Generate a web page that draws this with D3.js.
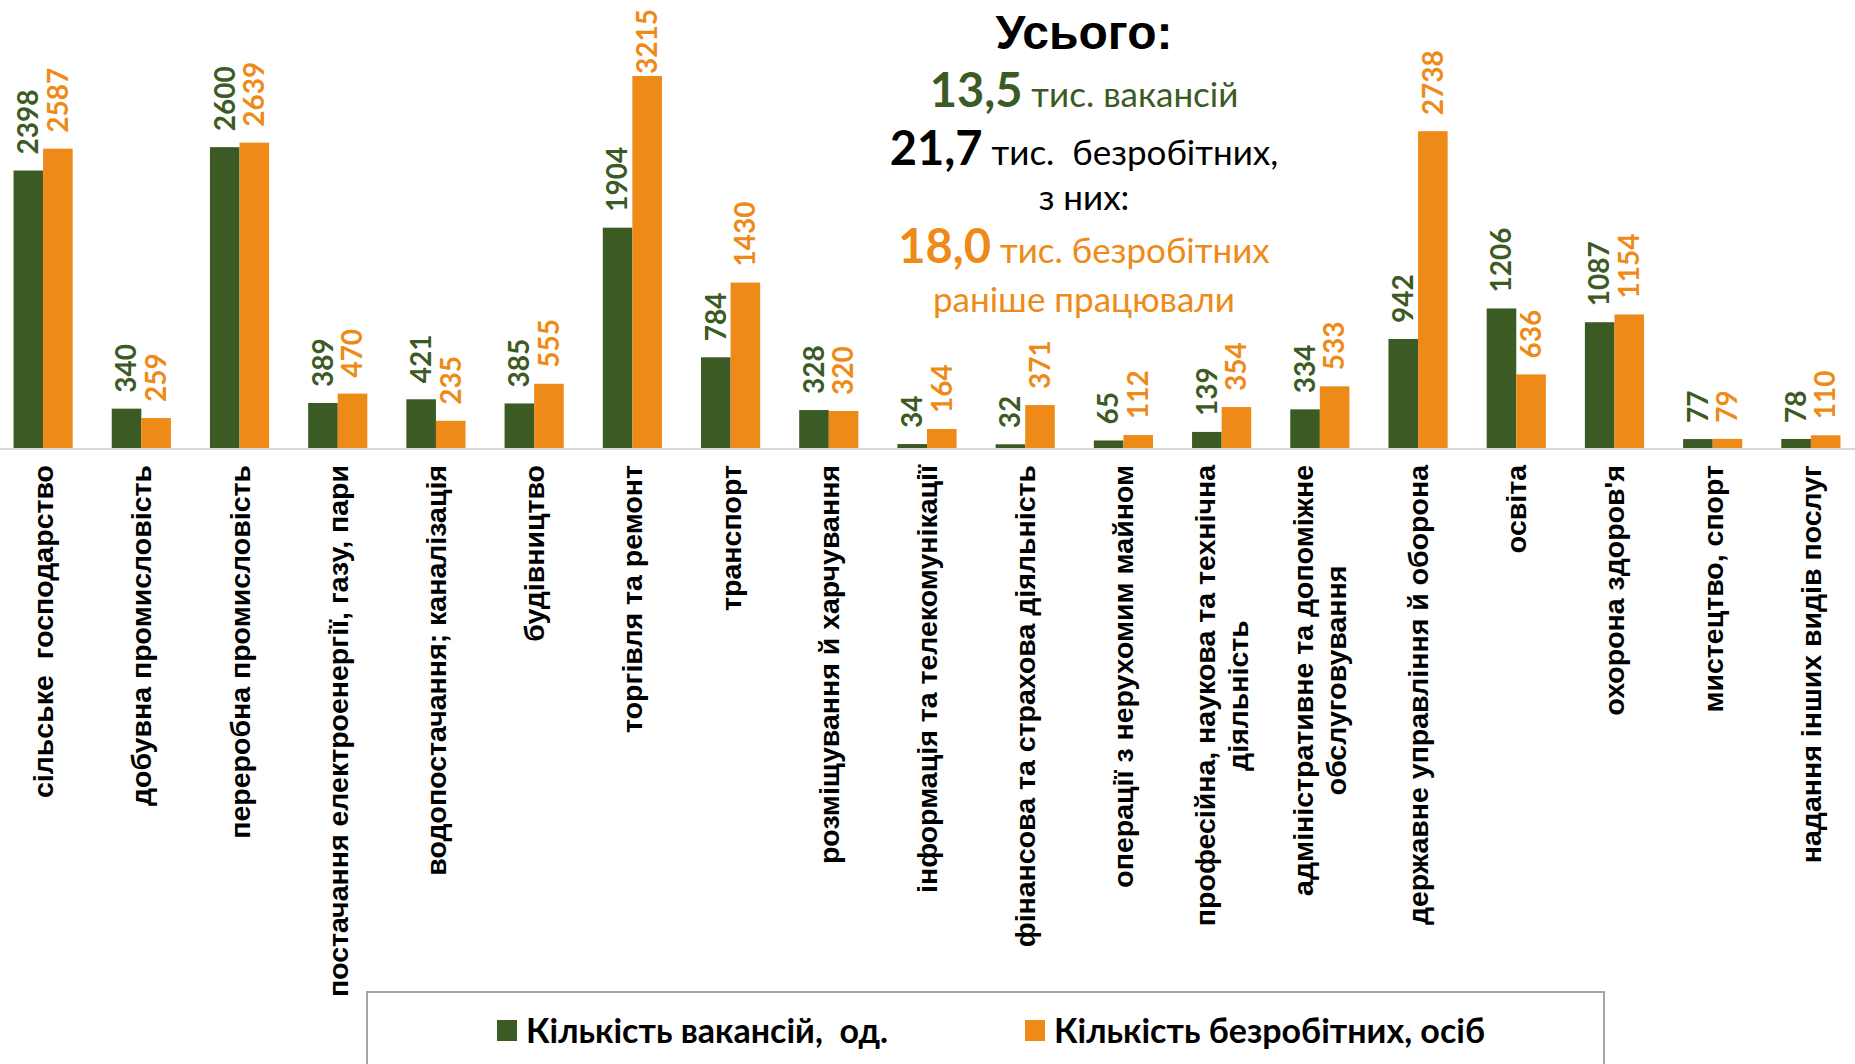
<!DOCTYPE html>
<html>
<head>
<meta charset="utf-8">
<script src="https://cdn.jsdelivr.net/npm/d3@7"></script>
<style>
  body { margin: 0; background: #fff; }
  svg { display: block; }
  text { white-space: pre; }
</style>
</head>
<body>
<svg id="vis"></svg>
<script>
var categories = [
    "сільське  господарство",
    "добувна промисловість",
    "переробна промисловість",
    "постачання електроенергії, газу, пари",
    "водопостачання; каналізація",
    "будівництво",
    "торгівля та ремонт",
    "транспорт",
    "розміщування й харчування",
    "інформація та телекомунікації",
    "фінансова та страхова діяльність",
    "операції з нерухомим майном",
    "професійна, наукова та технічна\nдіяльність",
    "адміністративне та допоміжне\nобслуговування",
    "державне управління й оборона",
    "освіта",
    "охорона здоров'я",
    "мистецтво, спорт",
    "надання інших видів послуг"
];
var vacancies = [2398, 340, 2600, 389, 421, 385, 1904, 784, 328, 34, 32, 65, 139, 334, 942, 1206, 1087, 77, 78];
var unemployed = [2587, 259, 2639, 470, 235, 555, 3215, 1430, 320, 164, 371, 112, 354, 533, 2738, 636, 1154, 79, 110];
var seriesNames = ["Кількість вакансій,  од.", "Кількість безробітних, осіб"];

var green = "#3C5A24",
    orange = "#EE8A18";

var width = 1855,
    height = 1064,
    baseY = 448;

var svg = d3.select("#vis")
    .attr("width", width)
    .attr("height", height);

svg.append("rect")
    .attr("width", width)
    .attr("height", height)
    .attr("fill", "#fff");

var xScale = d3.scaleBand()
    .domain(d3.range(categories.length))
    .range([-6, 1860]);

var xSub = d3.scaleBand()
    .domain(["vac", "unemp"])
    .range([0, xScale.bandwidth()])
    .paddingOuter(0.66);

var yScale = d3.scaleLinear()
    .domain([0, 3500])
    .range([baseY, 43]);

var data = categories.map(function (c, i) {
    return {i: i, name: c, vac: vacancies[i], unemp: unemployed[i]};
});

var groups = svg.selectAll(".cat")
    .data(data)
    .enter().append("g")
    .attr("class", "cat")
    .attr("transform", function (d) {
        return "translate(" + xScale(d.i) + ",0)";
    });

[["vac", green], ["unemp", orange]].forEach(function (s) {
    groups.append("rect")
        .attr("x", xSub(s[0]))
        .attr("width", xSub.bandwidth())
        .attr("y", function (d) { return yScale(d[s[0]]); })
        .attr("height", function (d) { return baseY - yScale(d[s[0]]); })
        .attr("fill", s[1]);
});

// baseline
svg.append("line")
    .attr("x1", 0)
    .attr("x2", width)
    .attr("y1", baseY + 1)
    .attr("y2", baseY + 1)
    .attr("stroke", "#d9d9d9")
    .attr("stroke-width", 2);

// value labels, rotated
[["vac", green], ["unemp", orange]].forEach(function (s) {
    groups.append("text")
        .attr("class", "val")
        .style("font-family", "Lato, sans-serif")
        .style("font-weight", "bold")
        .style("font-size", "28px")
        .attr("fill", s[1])
        .attr("dy", ".35em")
        .text(function (d) { return d[s[0]]; })
        .attr("transform", function (d) {
            var len = this.getComputedTextLength();
            var start = Math.max(yScale(d[s[0]]) - 16, 9 + len);
            return "translate(" + (xSub(s[0]) + xSub.bandwidth() / 2) + "," + start + ") rotate(-90)";
        });
});

// category labels
var labelTop = 465,
    lineH = 33;
groups.each(function (d) {
    var g = d3.select(this).append("g")
        .attr("transform", "translate(" + (xScale.bandwidth() / 2) + "," + labelTop + ") rotate(-90)");
    var lines = d.name.split("\n");
    var t = g.selectAll("text")
        .data(lines)
        .enter().append("text")
        .style("font-family", "'Liberation Sans', Arial, sans-serif")
        .style("font-weight", "bold")
        .style("font-size", "28.5px")
        .attr("fill", "#000")
        .attr("y", function (l, j) { return (j - (lines.length - 1) / 2) * lineH; })
        .attr("dy", ".35em")
        .text(function (l) { return l; });
    if (lines.length === 1) {
        t.style("text-anchor", "end");
    } else {
        var maxLen = d3.max(t.nodes(), function (n) { return n.getComputedTextLength(); });
        t.style("text-anchor", "middle").attr("x", -maxLen / 2);
    }
});

// summary text block
var cx = 1084;
var summary = svg.append("g")
    .attr("text-anchor", "middle");

summary.append("text")
    .attr("x", cx).attr("y", 49)
    .style("font-family", "'Liberation Sans', Arial, sans-serif")
    .style("font-weight", "bold")
    .style("font-size", "48px")
    .attr("fill", "#000")
    .text("Усього:");

var rows = [
    {y: 107, num: "13,5", rest: " тис. вакансій", color: green},
    {y: 165, num: "21,7", rest: " тис.  безробітних,", color: "#000"},
    {y: 210, num: "", rest: "з них:", color: "#000"},
    {y: 263, num: "18,0", rest: " тис. безробітних", color: orange},
    {y: 312, num: "", rest: "раніше працювали", color: orange}
];

rows.forEach(function (r) {
    var t = summary.append("text")
        .attr("x", cx).attr("y", r.y)
        .style("font-family", "Lato, sans-serif")
        .attr("fill", r.color);
    if (r.num) {
        t.append("tspan")
            .style("font-weight", "bold")
            .style("font-size", "47px")
            .text(r.num);
    }
    t.append("tspan")
        .style("font-size", "35px")
        .text(r.rest);
});

// legend
var legend = svg.append("g");
legend.append("rect")
    .attr("x", 367)
    .attr("y", 992)
    .attr("width", 1237)
    .attr("height", 120)
    .attr("fill", "none")
    .attr("stroke", "#a6a6a6")
    .attr("stroke-width", 2);

var legendX = [497, 1025];
var legendItem = legend.selectAll(".legend")
    .data(seriesNames)
    .enter().append("g")
    .attr("class", "legend")
    .attr("transform", function (d, i) {
        return "translate(" + legendX[i] + ",1020)";
    });

legendItem.append("rect")
    .attr("width", 20)
    .attr("height", 21)
    .attr("fill", function (d, i) { return i === 0 ? green : orange; });

legendItem.append("text")
    .attr("x", 29)
    .attr("y", 23)
    .style("font-family", "Lato, sans-serif")
    .style("font-weight", "bold")
    .style("font-size", "34px")
    .attr("fill", "#000")
    .text(function (d) { return d; });
</script>
</body>
</html>
